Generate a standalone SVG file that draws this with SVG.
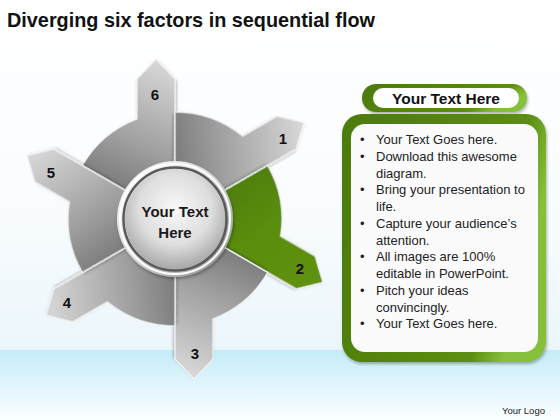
<svg xmlns="http://www.w3.org/2000/svg" width="560" height="420" viewBox="0 0 560 420">
<defs>
<linearGradient id="bgTop" x1="0" y1="0" x2="0" y2="1"><stop offset="0" stop-color="#ffffff"/><stop offset="0.6" stop-color="#f9fcfe"/><stop offset="1" stop-color="#ebf6fb"/></linearGradient>
<linearGradient id="bgBand" x1="0" y1="0" x2="0" y2="1"><stop offset="0" stop-color="#c4ecf9"/><stop offset="0.5" stop-color="#e0f5fc"/><stop offset="1" stop-color="#fbfeff"/></linearGradient>
<linearGradient id="gray" gradientUnits="userSpaceOnUse" x1="100" y1="205" x2="160" y2="65"><stop offset="0" stop-color="#6a6a6a"/><stop offset="0.45" stop-color="#9e9e9e"/><stop offset="1" stop-color="#d6d6d6"/></linearGradient>
<linearGradient id="green" gradientUnits="userSpaceOnUse" x1="100" y1="205" x2="160" y2="65"><stop offset="0" stop-color="#4a7a06"/><stop offset="0.5" stop-color="#5a8c0e"/><stop offset="1" stop-color="#5f9212"/></linearGradient>
<linearGradient id="rim" x1="0" y1="0" x2="1" y2="1"><stop offset="0" stop-color="#ffffff"/><stop offset="0.5" stop-color="#d6d6d6"/><stop offset="1" stop-color="#8c8c8c"/></linearGradient>
<radialGradient id="ball" cx="0.5" cy="0.4" r="0.6"><stop offset="0" stop-color="#f8f8f8"/><stop offset="0.6" stop-color="#dedede"/><stop offset="1" stop-color="#a8a8a8"/></radialGradient>
<linearGradient id="gbox" x1="0" y1="0" x2="1" y2="0.3"><stop offset="0" stop-color="#4b7a0a"/><stop offset="0.85" stop-color="#5c8e12"/><stop offset="1" stop-color="#86c03a"/></linearGradient>
<filter id="sh" x="-10%" y="-10%" width="130%" height="130%"><feDropShadow dx="1" dy="2" stdDeviation="1.5" flood-color="#000" flood-opacity="0.3"/></filter>
<path id="piece" d="M175,167 L175,79 L156,59 L137,79 L137,118.98 A107,107 0 0 0 82.34,165.5 L129.97,193 A52,52 0 0 1 175,167 Z"/>
</defs>
<style>
.pc{stroke:#f2f2f2;stroke-width:1.3;filter:url(#sh)}
.num{font-family:"Liberation Sans",Arial,sans-serif;font-weight:bold;font-size:15px;fill:#111;text-anchor:middle}
.bl{font-family:"Liberation Sans",Arial,sans-serif;font-size:13px;fill:#222}
</style>
<rect x="0" y="0" width="560" height="350" fill="url(#bgTop)"/>
<rect x="0" y="350" width="560" height="70" fill="url(#bgBand)"/>
<text x="7" y="27" font-family="Liberation Sans,Arial,sans-serif" font-weight="bold" font-size="21" fill="#111" textLength="368" lengthAdjust="spacingAndGlyphs">Diverging six factors in sequential flow</text>

<g id="wheel">
<g id="seg6"><use href="#piece" class="pc" fill="url(#gray)"/><text class="num" x="155" y="100">6</text></g>
<g id="seg1"><use href="#piece" class="pc" fill="url(#gray)" transform="rotate(60 175 219)"/><text class="num" x="283" y="144">1</text></g>
<g id="seg2"><use href="#piece" class="pc" fill="url(#green)" transform="rotate(120 175 219)"/><text class="num" x="300" y="274">2</text></g>
<g id="seg3"><use href="#piece" class="pc" fill="url(#gray)" transform="rotate(180 175 219)"/><text class="num" x="195" y="359">3</text></g>
<g id="seg4"><use href="#piece" class="pc" fill="url(#gray)" transform="rotate(240 175 219)"/><text class="num" x="67" y="308">4</text></g>
<g id="seg5"><use href="#piece" class="pc" fill="url(#gray)" transform="rotate(300 175 219)"/><text class="num" x="51" y="178">5</text></g>
</g>

<g id="hub">
<circle cx="175" cy="219" r="58" fill="url(#rim)" filter="url(#sh)"/>
<circle cx="175" cy="219" r="55" fill="none" stroke="#ffffff" stroke-width="2"/>
<circle cx="175" cy="219" r="51.5" fill="none" stroke="#5a5a5a" stroke-width="2.5"/>
<circle cx="175" cy="219" r="50" fill="url(#ball)"/>
<text x="175" y="217" text-anchor="middle" font-family="Liberation Sans,Arial,sans-serif" font-weight="bold" font-size="15" fill="#1a1a1a">Your Text</text>
<text x="175" y="238" text-anchor="middle" font-family="Liberation Sans,Arial,sans-serif" font-weight="bold" font-size="15" fill="#1a1a1a">Here</text>
</g>

<g id="header">
<rect x="362" y="84" width="165" height="28" rx="14" fill="url(#gbox)" filter="url(#sh)"/>
<rect x="373" y="88" width="146" height="20" rx="10" fill="#ffffff"/>
<text x="446" y="104" text-anchor="middle" font-family="Liberation Sans,Arial,sans-serif" font-weight="bold" font-size="15.5" fill="#111">Your Text Here</text>
</g>

<g id="box">
<rect x="342" y="114" width="204" height="248" rx="20" fill="url(#gbox)" filter="url(#sh)"/>
<rect x="351" y="124" width="187" height="228" rx="14" fill="#fbfbfb"/>
<g class="bl">
<text x="360" y="144">•</text><text x="376" y="144">Your Text Goes here.</text>
<text x="360" y="160.8">•</text><text x="376" y="160.8">Download this awesome</text>
<text x="376" y="177.5">diagram.</text>
<text x="360" y="194.3">•</text><text x="376" y="194.3">Bring your presentation to</text>
<text x="376" y="211">life.</text>
<text x="360" y="227.8">•</text><text x="376" y="227.8">Capture your audience’s</text>
<text x="376" y="244.5">attention.</text>
<text x="360" y="261.3">•</text><text x="376" y="261.3">All images are 100%</text>
<text x="376" y="278">editable in PowerPoint.</text>
<text x="360" y="294.8">•</text><text x="376" y="294.8">Pitch your ideas</text>
<text x="376" y="311.5">convincingly.</text>
<text x="360" y="328.3">•</text><text x="376" y="328.3">Your Text Goes here.</text>
</g>
</g>

<text x="502" y="414" font-family="Liberation Sans,Arial,sans-serif" font-size="9.5" fill="#222">Your Logo</text>
</svg>
